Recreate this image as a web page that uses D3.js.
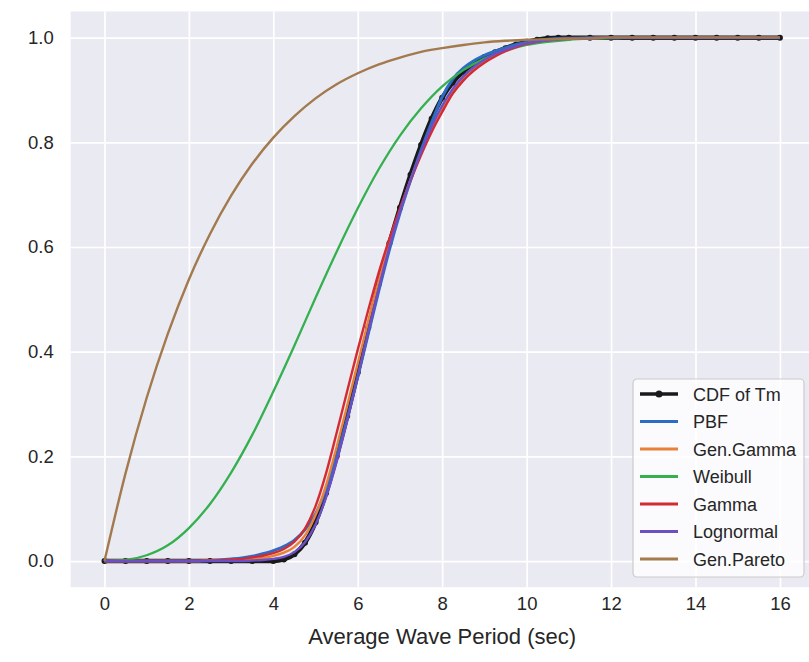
<!DOCTYPE html>
<html>
<head>
<meta charset="utf-8">
<script src="https://cdn.jsdelivr.net/npm/d3@7"></script>
<style>
  html, body { margin: 0; padding: 0; background: #ffffff; }
  svg { display: block; font-family: "Liberation Sans", Arial, sans-serif; }
</style>
</head>
<body>
<svg id="chart" width="809" height="662"></svg>
<script>
// Empirical CDF of the average wave period Tm
const xEmp = [0, 0.5, 1, 1.5, 2, 2.5, 3, 3.5,
  4.0, 4.25, 4.5, 4.75, 5.0, 5.25, 5.5, 5.75, 6.0, 6.25, 6.5, 6.75, 7.0, 7.25, 7.5, 7.75,
  8.0, 8.25, 8.5, 8.75, 9.0, 9.25, 9.5, 9.75, 10.0, 10.25, 10.5, 10.75,
  11, 11.5, 12, 12.5, 13, 13.5, 14, 14.5, 15, 15.5, 16];
const cdfTm = [0, 0, 0, 0, 0, 0, 0, 0,
  0, 0.003, 0.013, 0.035, 0.074, 0.13, 0.2, 0.277, 0.36, 0.446, 0.53, 0.607, 0.675, 0.738, 0.795, 0.845,
  0.885, 0.914, 0.935, 0.951, 0.963, 0.972, 0.98, 0.987, 0.992, 0.996, 0.999, 1,
  1, 1, 1, 1, 1, 1, 1, 1, 1, 1, 1];

// Period grid for the narrow fits (finer through the steep part)
const xFine = [0, 0.5, 1, 1.5, 2, 2.5, 3,
  3.25, 3.5, 3.75, 4, 4.25, 4.5, 4.75, 5, 5.25, 5.5, 5.75, 6, 6.25, 6.5, 6.75, 7,
  7.25, 7.5, 7.75, 8, 8.25, 8.5, 8.75, 9, 9.25, 9.5, 9.75, 10,
  10.5, 11, 11.5, 12, 12.5, 13, 13.5, 14, 14.5, 15, 15.5, 16];
const pbf = [0, 0, 0, 0, 0, 0.001, 0.004,
  0.006, 0.009, 0.014, 0.02, 0.028, 0.04, 0.06, 0.09, 0.137, 0.199, 0.272, 0.352, 0.435, 0.517, 0.595, 0.665,
  0.727, 0.785, 0.838, 0.887, 0.921, 0.942, 0.956, 0.966, 0.974, 0.981, 0.987, 0.991,
  0.997, 0.999, 1, 1, 1, 1, 1, 1, 1, 1, 1, 1];
const genGamma = [0, 0, 0, 0, 0, 0.001, 0.002,
  0.003, 0.004, 0.006, 0.01, 0.016, 0.027, 0.049, 0.088, 0.145, 0.218, 0.297, 0.378, 0.459, 0.537, 0.608, 0.671,
  0.728, 0.779, 0.825, 0.864, 0.898, 0.922, 0.941, 0.955, 0.967, 0.976, 0.983, 0.989,
  0.995, 0.998, 0.999, 1, 1, 1, 1, 1, 1, 1, 1, 1];
const gamma = [0, 0, 0, 0, 0, 0.001, 0.003,
  0.004, 0.007, 0.01, 0.015, 0.023, 0.037, 0.062, 0.105, 0.168, 0.245, 0.325, 0.404, 0.48, 0.552, 0.616, 0.674,
  0.727, 0.776, 0.82, 0.858, 0.893, 0.918, 0.937, 0.952, 0.964, 0.974, 0.982, 0.988,
  0.995, 0.998, 0.999, 1, 1, 1, 1, 1, 1, 1, 1, 1];
const lognormal = [0, 0, 0, 0, 0, 0, 0,
  0, 0.001, 0.002, 0.004, 0.008, 0.017, 0.036, 0.07, 0.122, 0.19, 0.268, 0.352, 0.438, 0.522, 0.6, 0.668,
  0.728, 0.782, 0.83, 0.87, 0.902, 0.926, 0.944, 0.958, 0.969, 0.977, 0.984, 0.989,
  0.995, 0.998, 0.999, 1, 1, 1, 1, 1, 1, 1, 1, 1];

// Period grid for the wide fits
const xWide = [0, 0.5, 1, 1.5, 2, 2.5, 3, 3.5, 4, 4.5, 5, 5.5, 6, 6.5, 7, 7.5, 8, 8.5,
  9, 9.5, 10, 10.5, 11, 11.5, 12, 12.5, 13, 13.5, 14, 14.5, 15, 15.5, 16];
const weibull = [0, 0.002, 0.011, 0.03, 0.063, 0.109, 0.169, 0.241, 0.324, 0.412, 0.503, 0.591, 0.674, 0.749, 0.813, 0.865, 0.907, 0.938,
  0.96, 0.975, 0.986, 0.992, 0.996, 0.998, 0.999, 1, 1, 1, 1, 1, 1, 1, 1];
const genPareto = [0, 0.168, 0.312, 0.434, 0.538, 0.625, 0.698, 0.759, 0.809, 0.85, 0.884, 0.911, 0.932, 0.949, 0.962, 0.973, 0.98, 0.986,
  0.991, 0.994, 0.996, 0.997, 0.998, 0.999, 1, 1, 1, 1, 1, 1, 1, 1, 1];

const xTicks = [0, 2, 4, 6, 8, 10, 12, 14, 16];
const yTicks = [0.0, 0.2, 0.4, 0.6, 0.8, 1.0];
const seriesNames = ["CDF of Tm", "PBF", "Gen.Gamma", "Weibull", "Gamma", "Lognormal", "Gen.Pareto"];
const seriesColors = ["#1a1a1a", "#2d6cc4", "#e8823a", "#34b04f", "#d42a32", "#6d4fc4", "#a27a4e"];
const seriesWidths = [4.5, 3, 2.4, 2.3, 2.4, 2.4, 2.4];

const svg = d3.select("#chart");
const plot = { left: 70.7, top: 11.5, width: 743, height: 575.7 };

const x = d3.scaleLinear().domain([-0.8, 16.8]).range([plot.left, plot.left + plot.width]);
const y = d3.scaleLinear().domain([-0.05, 1.05]).range([plot.top + plot.height, plot.top]);

// Axes background
svg.append("rect")
  .attr("x", plot.left).attr("y", plot.top)
  .attr("width", plot.width).attr("height", plot.height)
  .attr("fill", "#eaeaf2");

// Gridlines
const gx = svg.append("g")
  .attr("transform", `translate(0,${plot.top + plot.height})`)
  .call(d3.axisBottom(x).tickValues(xTicks).tickSize(-plot.height).tickFormat(""));
gx.select(".domain").remove();
gx.selectAll(".tick line").attr("stroke", "#ffffff").attr("stroke-width", 1.7);

const gy = svg.append("g")
  .attr("transform", `translate(${plot.left},0)`)
  .call(d3.axisLeft(y).tickValues(yTicks).tickSize(-plot.width).tickFormat(""));
gy.select(".domain").remove();
gy.selectAll(".tick line").attr("stroke", "#ffffff").attr("stroke-width", 1.7);

// Tick labels
const xl = svg.append("g")
  .attr("transform", `translate(0,${plot.top + plot.height})`)
  .call(d3.axisBottom(x).tickValues(xTicks).tickSize(0).tickPadding(10).tickFormat(d3.format("d")));
xl.select(".domain").remove();
xl.selectAll("text").attr("font-size", 18.5).attr("fill", "#262626").attr("font-family", "Liberation Sans, Arial, sans-serif");

const yl = svg.append("g")
  .attr("transform", `translate(${plot.left},0)`)
  .call(d3.axisLeft(y).tickValues(yTicks).tickSize(0).tickPadding(17).tickFormat(d3.format(".1f")));
yl.select(".domain").remove();
yl.selectAll("text").attr("font-size", 18.5).attr("fill", "#262626").attr("font-family", "Liberation Sans, Arial, sans-serif");

// Axis title
svg.append("text")
  .attr("x", x(8)).attr("y", 644)
  .attr("text-anchor", "middle")
  .attr("font-size", 22)
  .attr("fill", "#262626")
  .text("Average Wave Period (sec)");

// Curves
svg.append("clipPath").attr("id", "plotclip")
  .append("rect").attr("x", plot.left).attr("y", plot.top)
  .attr("width", plot.width).attr("height", plot.height);

const line = d3.line()
  .x(d => x(d[0]))
  .y(d => y(d[1]))
  .curve(d3.curveMonotoneX);

const curves = svg.append("g").attr("clip-path", "url(#plotclip)");

const empData = xEmp.map((v, i) => [v, cdfTm[i]]);
curves.append("path")
  .datum(empData)
  .attr("d", line)
  .attr("fill", "none")
  .attr("stroke", seriesColors[0])
  .attr("stroke-width", seriesWidths[0])
  .attr("stroke-linejoin", "round")
  .attr("stroke-linecap", "round");
curves.append("g").selectAll("circle")
  .data(empData)
  .join("circle")
  .attr("cx", d => x(d[0]))
  .attr("cy", d => y(d[1]))
  .attr("r", 3)
  .attr("fill", seriesColors[0]);

const fits = [
  [xFine, pbf], [xFine, genGamma], [xWide, weibull],
  [xFine, gamma], [xFine, lognormal], [xWide, genPareto]
];
fits.forEach(([xs, vals], k) => {
  curves.append("path")
    .datum(xs.map((v, i) => [v, vals[i]]))
    .attr("d", line)
    .attr("fill", "none")
    .attr("stroke", seriesColors[k + 1])
    .attr("stroke-width", seriesWidths[k + 1])
    .attr("stroke-linejoin", "round");
});

// Legend
const leg = svg.append("g").attr("transform", "translate(633,379)");
leg.append("rect")
  .attr("width", 171).attr("height", 198)
  .attr("rx", 4)
  .attr("fill", "#ffffff").attr("fill-opacity", 0.8)
  .attr("stroke", "#cccccc").attr("stroke-width", 1.2);

const rows = leg.selectAll("g.row")
  .data(seriesNames)
  .join("g")
  .attr("class", "row")
  .attr("transform", (d, i) => `translate(0,${15 + i * 27.5})`);

rows.append("line")
  .attr("x1", 7).attr("x2", 45)
  .attr("y1", 0).attr("y2", 0)
  .attr("stroke", (d, i) => seriesColors[i])
  .attr("stroke-width", (d, i) => i === 0 ? 3.5 : 3);
rows.filter((d, i) => i === 0).append("circle")
  .attr("cx", 26).attr("cy", 0).attr("r", 3.5)
  .attr("fill", seriesColors[0]);
rows.append("text")
  .attr("x", 60).attr("y", 6.5)
  .attr("font-size", 18)
  .attr("fill", "#262626")
  .text(d => d);
</script>
</body>
</html>
